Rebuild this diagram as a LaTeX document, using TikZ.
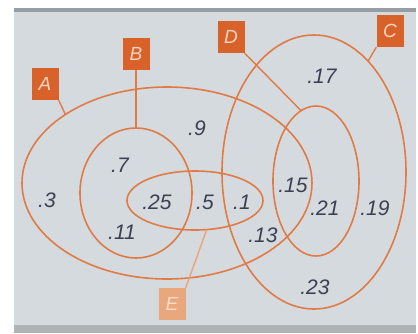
\documentclass[tikz,border=0pt]{standalone}
\usepackage{fontspec}
\setmainfont{Liberation Sans}
\usetikzlibrary{shapes.geometric}
\definecolor{bg}{HTML}{D5DADF}
\definecolor{topbar}{HTML}{979EA3}
\definecolor{botbar}{HTML}{AEB3B6}
\definecolor{ln}{HTML}{E07B45}
\definecolor{boxc}{HTML}{D9622B}
\definecolor{boxpale}{HTML}{E9A77C}
\definecolor{num}{HTML}{3A4050}
\definecolor{lab}{HTML}{F6D5C2}
\tikzset{
  set/.style={ellipse, draw=ln, line width=1.6pt, inner sep=0pt, outer sep=0pt},
  tag/.style={rectangle, fill=boxc, text=lab, minimum width=27pt, minimum height=32pt,
    inner sep=0pt, font=\fontsize{19}{19}\selectfont\itshape},
  conn/.style={draw=ln, line width=1.4pt},
  val/.style={text=num, font=\fontsize{21}{21}\selectfont\itshape, inner sep=0pt}
}
\begin{document}
\begin{tikzpicture}[x=1pt,y=-1pt]
\useasboundingbox (0,0) rectangle (418,333);
\fill[white] (0,0) rectangle (418,333);
\fill[bg] (14,12) rectangle (416,326);
\fill[topbar] (14,8) rectangle (416,12);
\fill[botbar] (14,325) rectangle (416,333);
% sets
\node[set, minimum width=290pt, minimum height=192pt] (eA) at (167,183) {};
\node[set, minimum width=112pt, minimum height=130pt] (eB) at (136,193) {};
\node[set, minimum width=136pt, minimum height=59pt] (eE) at (195,200.5) {};
\node[set, minimum width=184pt, minimum height=274pt] (eC) at (314,172) {};
\node[set, minimum width=86pt, minimum height=150pt] (eD) at (316,181) {};
% tags
\node[tag] (tA) at (45,84) {A};
\node[tag] (tB) at (136,54) {B};
\node[tag] (tD) at (231,37) {D};
\node[tag] (tC) at (390,31) {C};
\node[tag, fill=boxpale, text=boxpale!40!white] (tE) at (172,304) {E};
% connectors
\draw[conn] (tA.south east) -- (eA.146);
\draw[conn] (tB.south) -- (eB.north);
\draw[conn] (tD.south east) -- (eD.102);
\draw[conn] (tC.south west) -- (eC.64.7);
\draw[conn, draw=ln!70!white] (tE.north east) -- (eE.-68);
% values
\node[val] (v3) at (47,200) {.3};
\node[val] (v7) at (120,165) {.7};
\node[val] (v9) at (197,128) {.9};
\node[val] (v25) at (157,202) {.25};
\node[val] (v5) at (205,202) {.5};
\node[val] (v1) at (242,202) {.1};
\node[val] (v11) at (122,232) {.11};
\node[val] (v13) at (263,235) {.13};
\node[val] (v15) at (293,185) {.15};
\node[val] (v21) at (325,208) {.21};
\node[val] (v19) at (375,208) {.19};
\node[val] (v17) at (322,76) {.17};
\node[val] (v23) at (315,287) {.23};
\end{tikzpicture}
\end{document}
